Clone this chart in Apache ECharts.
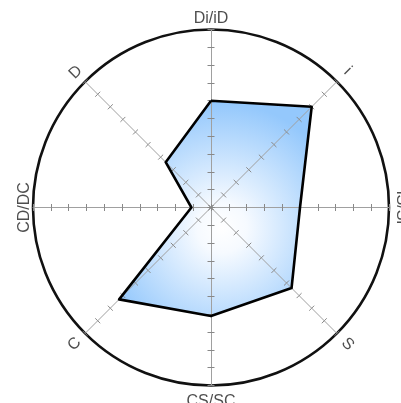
<!DOCTYPE html>
<html>
<head>
<meta charset="utf-8">
<script src="https://cdn.jsdelivr.net/npm/echarts@6/dist/echarts.min.js"></script>
<style>
html,body{margin:0;padding:0;background:#fff;}
#chart{width:401px;height:403px;}
</style>
</head>
<body>
<div id="chart"></div>
<script>
// Categories clockwise starting from top
const categories = ['Di/iD', 'i', 'iS/Si', 'S', 'CS/SC', 'C', 'CD/DC', 'D'];
const values = [6, 8, 5, 6.4, 6.1, 7.3, 1.1, 3.6];
const axisMax = 10;

const chart = echarts.init(document.getElementById('chart'));
const CX = 211, CY = 207.5, R = 178;
// radar goes counter-clockwise: reorder
const ccw = [0, 7, 6, 5, 4, 3, 2, 1];
const labelRot = [0, -45, -90, -45, 0, 45, 90, 45];
const labelR = [10.6, 10.85, 10.72, 10.85, 10.88, 10.85, 10.45, 10.75];

const circleColors = [];
for (let i = 0; i < axisMax; i++) circleColors.push('rgba(0,0,0,0)');
circleColors.push('#111');

const radarBase = {
  center: [CX, CY],
  radius: R,
  shape: 'circle',
  startAngle: 90,
  splitNumber: axisMax,
  z: 3,
  indicator: ccw.map(i => ({ name: categories[i], max: axisMax, min: 0 })),
  axisName: { show: false },
  splitArea: { show: false }
};

const fillGradient = {
  type: 'radial', x: 222, y: 228, r: 125, global: true,
  colorStops: [
    { offset: 0, color: '#ffffff' },
    { offset: 0.2, color: '#f6faff' },
    { offset: 1, color: '#94c8fc' }
  ]
};

chart.setOption({
  animation: false,
  backgroundColor: '#fff',
  radar: [
    Object.assign({}, radarBase, {
      axisLine: { show: true, lineStyle: { color: '#a0a0a0', width: 1 } },
      axisTick: { show: true, length: 3.5, lineStyle: { color: '#888', width: 1 } },
      splitLine: { show: true, lineStyle: { color: circleColors, width: 2.6 } }
    }),
    Object.assign({}, radarBase, {
      axisLine: { show: false },
      axisTick: { show: true, length: -3.5, lineStyle: { color: '#888', width: 1 } },
      splitLine: { show: false }
    })
  ],
  polar: { center: [CX, CY], radius: R },
  angleAxis: { type: 'value', min: 0, max: 360, startAngle: 90, clockwise: true, show: false },
  radiusAxis: { type: 'value', min: 0, max: axisMax, show: false },
  series: [
    {
      type: 'radar',
      radarIndex: 0,
      z: 2,
      symbol: 'none',
      lineStyle: { width: 0, opacity: 0 },
      areaStyle: { opacity: 1, color: fillGradient },
      data: [{ value: ccw.map(i => values[i]) }]
    },
    {
      type: 'radar',
      radarIndex: 0,
      z: 4,
      symbol: 'none',
      lineStyle: { color: '#000', width: 2.6 },
      data: [{ value: ccw.map(i => values[i]) }]
    },
    {
      type: 'scatter',
      coordinateSystem: 'polar',
      clip: false,
      symbolSize: 1,
      itemStyle: { color: 'rgba(0,0,0,0)' },
      silent: true,
      label: {
        show: true,
        position: 'inside',
        formatter: p => p.name,
        fontFamily: 'Liberation Sans, Arial, sans-serif',
        fontSize: 16,
        color: '#222'
      },
      labelLayout: { hideOverlap: false },
      data: categories.map((c, i) => ({
        name: c,
        value: [labelR[i], i * 360 / categories.length],
        label: { rotate: labelRot[i] }
      }))
    }
  ]
});
</script>
</body>
</html>
